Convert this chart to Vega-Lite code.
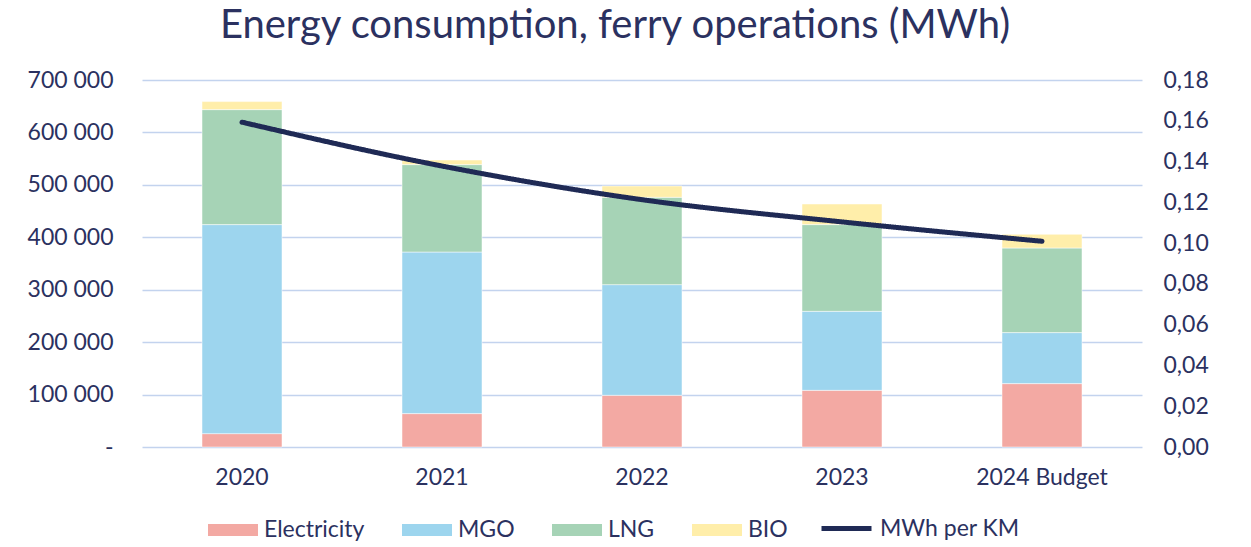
{
  "$schema": "https://vega.github.io/schema/vega-lite/v6.json",
  "autosize": "none",
  "width": 1000,
  "height": 367,
  "padding": {"left": 142, "top": 80, "right": 109, "bottom": 100},
  "background": "white",
  "config": {
    "font": "Lato",
    "view": {"stroke": null}
  },
  "title": {
    "text": "Energy consumption, ferry operations (MWh)",
    "fontSize": 40,
    "fontWeight": "normal",
    "font": "Lato",
    "color": "#2b3160",
    "anchor": "middle",
    "baseline": "alphabetic",
    "offset": 28,
    "dy": 37,
    "dx": -27
  },
  "datasets": {
    "bars": [
      {"year": "2020", "source": "Electricity", "mwh": 25500},
      {"year": "2020", "source": "MGO", "mwh": 398700},
      {"year": "2020", "source": "LNG", "mwh": 219300},
      {"year": "2020", "source": "BIO", "mwh": 15300},
      {"year": "2021", "source": "Electricity", "mwh": 63700},
      {"year": "2021", "source": "MGO", "mwh": 308200},
      {"year": "2021", "source": "LNG", "mwh": 166700},
      {"year": "2021", "source": "BIO", "mwh": 8800},
      {"year": "2022", "source": "Electricity", "mwh": 98600},
      {"year": "2022", "source": "MGO", "mwh": 211100},
      {"year": "2022", "source": "LNG", "mwh": 166600},
      {"year": "2022", "source": "BIO", "mwh": 21500},
      {"year": "2023", "source": "Electricity", "mwh": 108100},
      {"year": "2023", "source": "MGO", "mwh": 150700},
      {"year": "2023", "source": "LNG", "mwh": 165400},
      {"year": "2023", "source": "BIO", "mwh": 39300},
      {"year": "2024 Budget", "source": "Electricity", "mwh": 120900},
      {"year": "2024 Budget", "source": "MGO", "mwh": 97300},
      {"year": "2024 Budget", "source": "LNG", "mwh": 161400},
      {"year": "2024 Budget", "source": "BIO", "mwh": 26100}
    ],
    "line": [
      {"year": "2020", "perkm": 0.1593},
      {"year": "2021", "perkm": 0.1378},
      {"year": "2022", "perkm": 0.1213},
      {"year": "2023", "perkm": 0.1104},
      {"year": "2024 Budget", "perkm": 0.1009}
    ]
  },
  "layer": [
    {
      "data": {"name": "bars"},
      "transform": [
        {"calculate": "indexof(['Electricity', 'MGO', 'LNG', 'BIO'], datum.source)", "as": "stackorder"}
      ],
      "mark": {"type": "bar", "stroke": "white", "strokeWidth": 0.5},
      "encoding": {
        "x": {
          "field": "year",
          "type": "nominal",
          "sort": null,
          "scale": {"paddingInner": 0.6, "paddingOuter": 0.3},
          "axis": {
            "title": null,
            "labelAngle": 0,
            "labelFontSize": 23,
            "labelColor": "#2b3160",
            "labelPadding": 19,
            "ticks": false,
            "domain": false,
            "grid": false
          }
        },
        "y": {
          "field": "mwh",
          "type": "quantitative",
          "stack": "zero",
          "scale": {"domain": [0, 700000], "nice": false},
          "axis": {
            "title": null,
            "orient": "left",
            "values": [0, 100000, 200000, 300000, 400000, 500000, 600000, 700000],
            "labelExpr": "datum.value === 0 ? '-\u00a0\u00a0\u00a0\u00a0' : replace(format(datum.value, ',.0f'), ',', ' ')",
            "labelFontSize": 23,
            "labelColor": "#2b3160",
            "labelPadding": 29,
            "ticks": false,
            "domain": false,
            "grid": true,
            "gridColor": "#c3d3ee",
            "gridWidth": 1.6
          }
        },
        "order": {"field": "stackorder", "type": "quantitative", "sort": "ascending"},
        "color": {
          "field": "source",
          "type": "nominal",
          "sort": ["Electricity", "MGO", "LNG", "BIO"],
          "scale": {
            "domain": ["Electricity", "MGO", "LNG", "BIO"],
            "range": ["#f3a9a3", "#9dd5ee", "#a6d3b6", "#ffeeaa"]
          },
          "legend": {
            "title": null,
            "orient": "none",
            "direction": "horizontal",
            "legendX": 66,
            "legendY": 425,
            "labelFontSize": 23,
            "labelColor": "#2b3160",
            "labelOffset": 6,
            "columnPadding": 37,
            "symbolSize": 2500,
            "symbolType": "M-1,-0.24H1V0.24H-1Z",
            "symbolStrokeWidth": 0,
            "symbolOpacity": 1
          }
        }
      }
    },
    {
      "data": {"name": "line"},
      "mark": {"type": "line", "color": "#1f2a55", "strokeWidth": 5, "strokeCap": "round", "interpolate": "monotone"},
      "encoding": {
        "x": {"field": "year", "type": "nominal", "sort": null},
        "y": {
          "field": "perkm",
          "type": "quantitative",
          "scale": {"domain": [0, 0.18], "nice": false},
          "axis": {
            "title": null,
            "orient": "right",
            "values": [0, 0.02, 0.04, 0.06, 0.08, 0.1, 0.12, 0.14, 0.16, 0.18],
            "labelExpr": "replace(format(datum.value, '.2f'), '.', ',')",
            "labelFontSize": 23,
            "labelColor": "#2b3160",
            "labelPadding": 21,
            "ticks": false,
            "domain": false,
            "grid": false
          }
        },
        "strokeDash": {
          "datum": "MWh per KM",
          "type": "nominal",
          "scale": {"domain": ["MWh per KM"], "range": [[1, 0]]},
          "legend": {
            "title": null,
            "orient": "none",
            "direction": "horizontal",
            "legendX": 677,
            "legendY": 421,
            "labelFontSize": 23,
            "labelColor": "#2b3160",
            "labelOffset": 6,
            "symbolSize": 2500,
            "symbolType": "stroke",
            "symbolStrokeColor": "#1f2a55",
            "symbolStrokeWidth": 5,
            "symbolOpacity": 1
          }
        }
      }
    }
  ],
  "resolve": {"scale": {"y": "independent"}}
}
